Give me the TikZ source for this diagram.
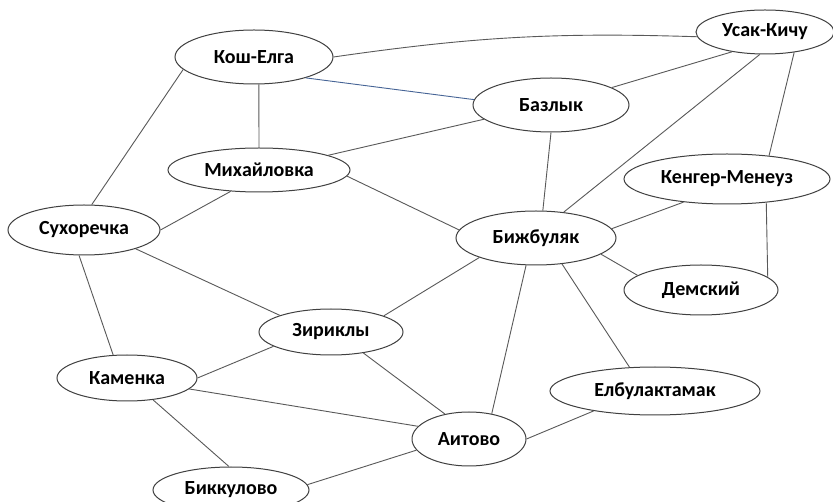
\documentclass[tikz,border=0pt]{standalone}
\usepackage{fontspec}
\setmainfont{Carlito}
\usetikzlibrary{shapes.geometric}
\definecolor{slateblue}{RGB}{70,100,150}
\tikzset{
  city/.style={ellipse, draw=black!75, line width=1pt, fill=white, inner sep=0pt,
    font=\bfseries\fontsize{20}{20}\selectfont},
  road/.style={draw=black!65, line width=0.9pt},
  blueroad/.style={draw=slateblue, line width=0.9pt}
}
\begin{document}
\begin{tikzpicture}[x=1pt,y=-1pt]
\useasboundingbox (0,0) rectangle (833,502);
\fill[white] (0,0) rectangle (833,502);
\node[city, minimum width=158pt, minimum height=54pt] (kosh) at (254,57) {Кош-Елга};
\node[city, minimum width=182pt, minimum height=44pt] (mikh) at (259,170) {Михайловка};
\node[city, minimum width=152pt, minimum height=50pt] (sukh) at (84,230) {Сухоречка};
\node[city, minimum width=138pt, minimum height=44pt] (usak) at (765,32) {Усак-Кичу};
\node[city, minimum width=156pt, minimum height=54pt] (bazl) at (551,105) {Базлык};
\node[city, minimum width=206pt, minimum height=50pt] (keng) at (727,179) {Кенгер-Менеуз};
\node[city, minimum width=160pt, minimum height=54pt] (bizh) at (536,238) {Бижбуляк};
\node[city, minimum width=154pt, minimum height=50pt] (dems) at (701,290) {Демский};
\node[city, minimum width=144pt, minimum height=46pt] (ziri) at (331,332) {Зириклы};
\node[city, minimum width=140pt, minimum height=46pt] (kame) at (127,378) {Каменка};
\node[city, minimum width=114pt, minimum height=54pt] (aito) at (469,439) {Аитово};
\node[city, minimum width=210pt, minimum height=48pt] (elbu) at (655,391) {Елбулактамак};
\node[city, minimum width=156pt, minimum height=46pt] (bikk) at (231,490) {Биккулово};

\draw[road] (kosh.east) to[bend left=5] (usak.184);
\draw[blueroad] (kosh.-22) -- (bazl.176);
\draw[road] (kosh.-80) -- (mikh.north);
\draw[road] (kosh.190) -- (sukh.73);
\draw[road] (bazl.16) -- (usak.211);
\draw[road] (bizh.43) -- (usak.257);
\draw[road] (usak.-35) -- (keng.29);
\draw[road] (keng.-31) -- (dems.11);
\draw[road] (mikh.12) -- (bazl.192);
\draw[road] (bazl.south) -- (bizh.76);
\draw[road] (mikh.-4) -- (bizh.174);
\draw[road] (mikh.217) -- (sukh.east);
\draw[road] (keng.208) -- (bizh.7);
\draw[road] (bizh.-14) -- (dems.167);
\draw[road] (sukh.-20) -- (ziri.162);
\draw[road] (sukh.-101) -- (kame.121);
\draw[road] (bizh.199) -- (ziri.17);
\draw[road] (bizh.250) -- (aito.48);
\draw[road] (bizh.-45) -- (elbu.137);
\draw[road] (ziri.194) -- (kame.east);
\draw[road] (ziri.-33) -- (aito.134);
\draw[road] (kame.-10) -- (aito.166);
\draw[road] (kame.-40) -- (bikk.95);
\draw[road] (bikk.4) -- (aito.192);
\draw[road] (aito.east) -- (elbu.198);
\end{tikzpicture}
\end{document}
